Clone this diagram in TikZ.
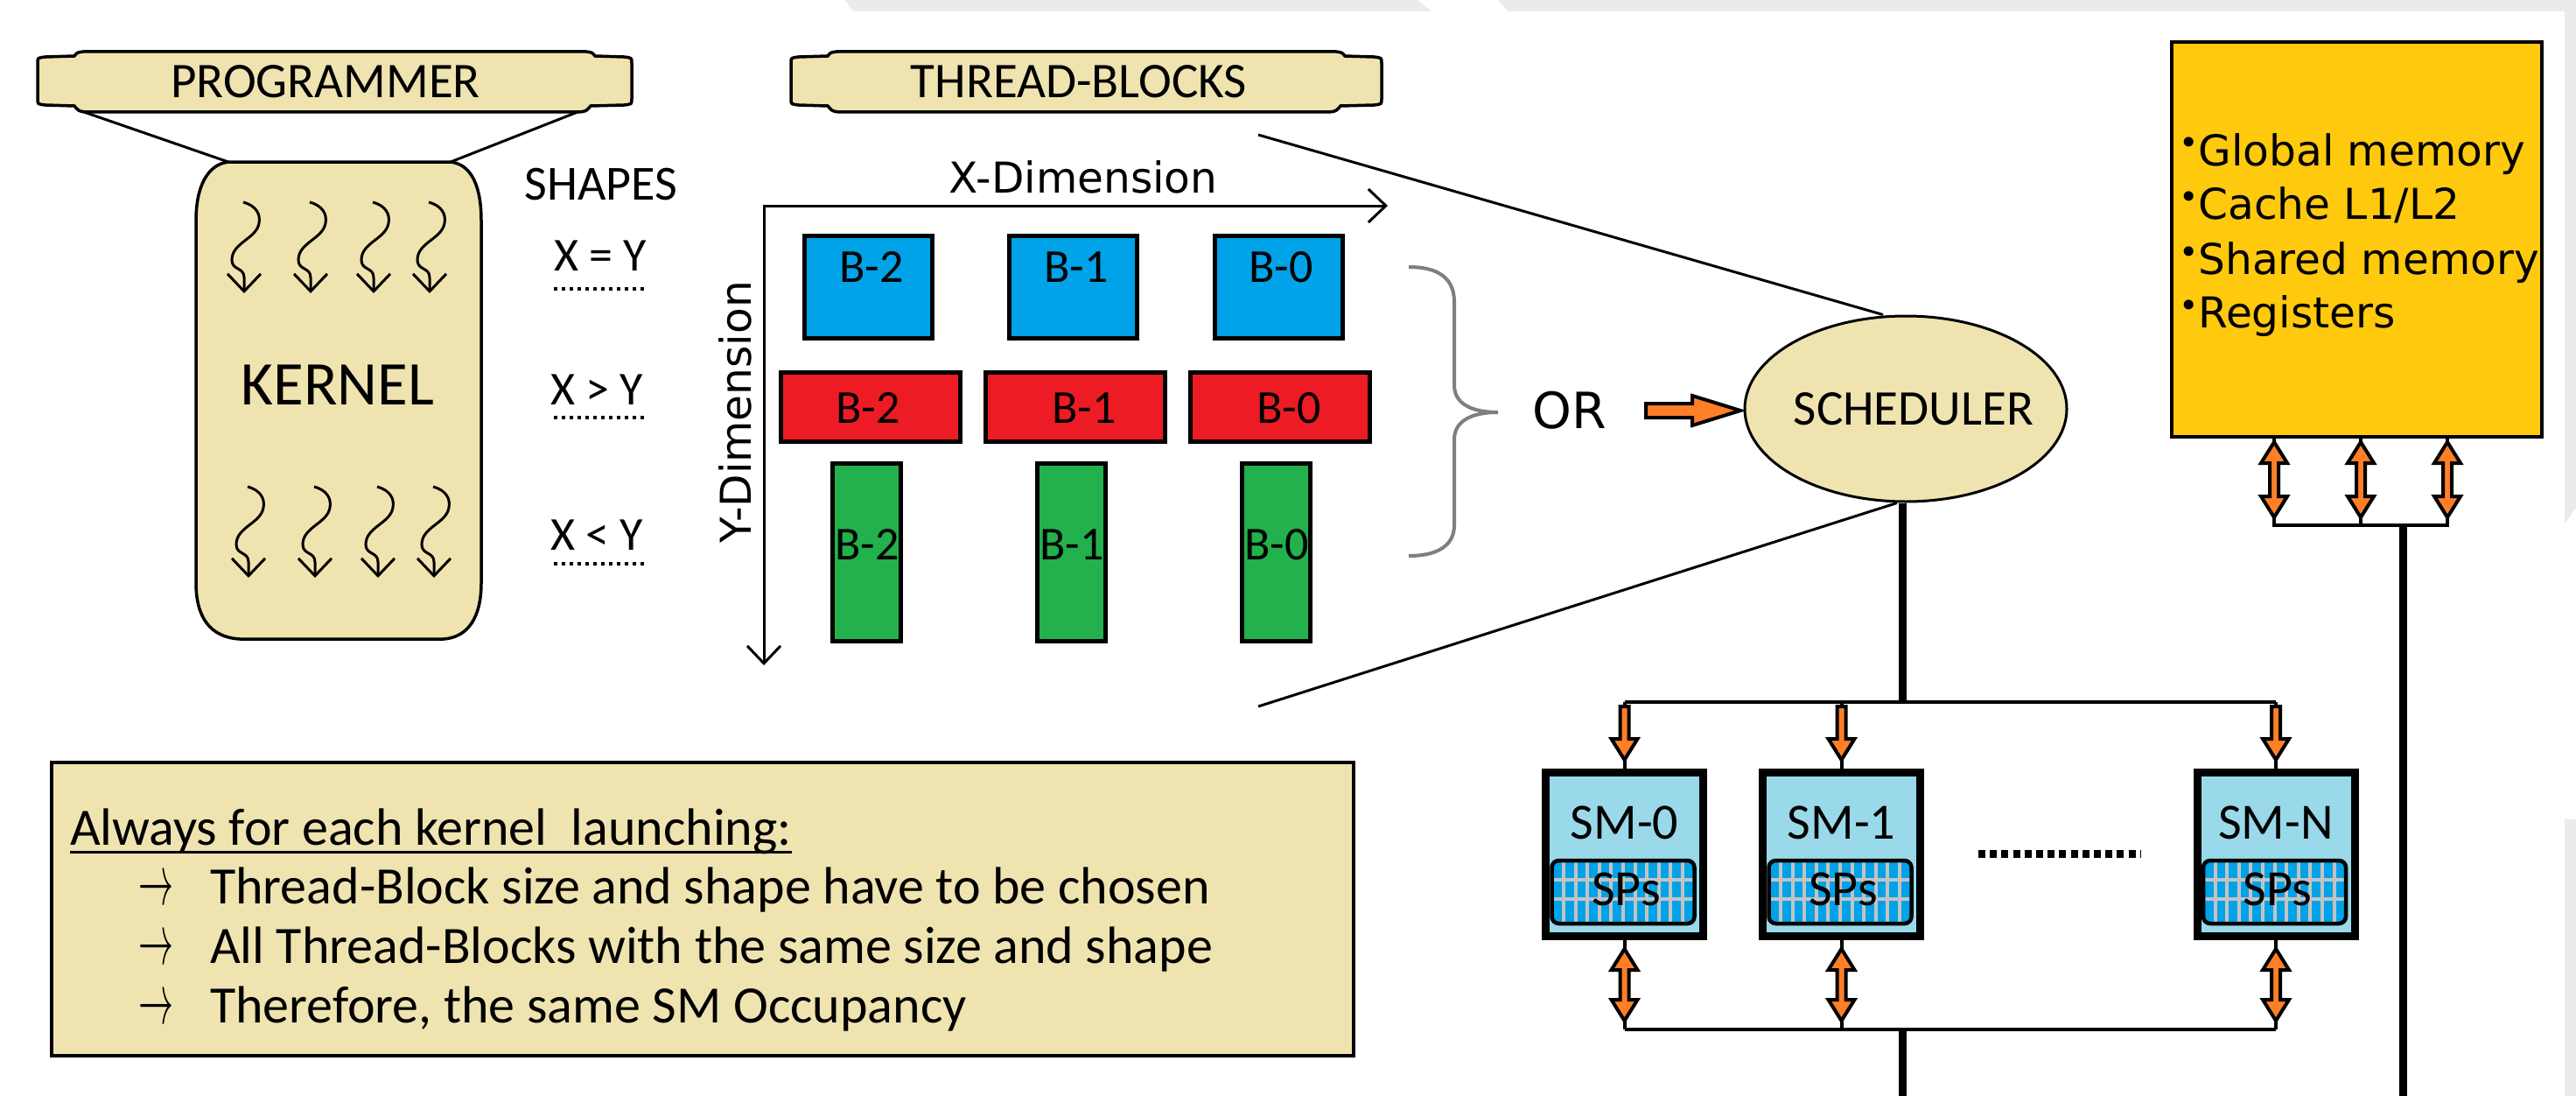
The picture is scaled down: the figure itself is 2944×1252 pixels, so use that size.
\documentclass[tikz,border=0pt]{standalone}
\usepackage{fontspec}
\setmainfont{Carlito}
\newfontfamily\dvs{DejaVu Sans}
\usetikzlibrary{arrows.meta,shapes.geometric,calc}
\definecolor{pbeige}{RGB}{239,228,176}
\definecolor{pblue}{RGB}{0,162,232}
\definecolor{pred}{RGB}{237,28,36}
\definecolor{pgreen}{RGB}{34,177,76}
\definecolor{porange}{RGB}{255,127,39}
\definecolor{plblue}{RGB}{153,217,234}
\definecolor{pyellow}{RGB}{255,201,14}
\definecolor{pgrid}{RGB}{195,195,195}
\definecolor{pbrace}{RGB}{127,127,127}
\definecolor{bggray}{RGB}{235,235,235}

\newcommand{\bannerbox}[2]{%
  \filldraw[fill=pbeige, draw=black, line width=1.75pt]
  (#1,72) .. controls (#1,66) .. (#1+9,65) -- (#1+42,64)
  .. controls (#1+45,60) .. (#1+52,59) -- (#2-52,59)
  .. controls (#2-45,60) .. (#2-42,64) -- (#2-9,65)
  .. controls (#2,66) .. (#2,72) -- (#2,113)
  .. controls (#2,119) .. (#2-9,120) -- (#2-47,121)
  .. controls (#2-52,127) .. (#2-60,128) -- (#1+55,128)
  .. controls (#1+47,127) .. (#1+42,121) -- (#1+9,120)
  .. controls (#1,119) .. (#1,113) -- cycle;}
\newcommand{\membullet}{\raisebox{6pt}{\fontsize{19}{19}\selectfont •}}
\newcommand{\notearrow}{\resizebox{20pt}{15pt}{$\rightarrow$}}

\tikzset{
  blockarrow/.style={fill=porange, draw=black, line width=2pt, line join=miter},
  pics/downarr/.style={code={\filldraw[blockarrow] (-5,0) -- (-5,#1-24) -- (-15,#1-24) -- (0,#1) -- (15,#1-24) -- (5,#1-24) -- (5,0) -- cycle;}},
  pics/dblarr/.style={code={\filldraw[blockarrow] (0,0) -- (15,24) -- (5,24) -- (5,#1-24) -- (15,#1-24) -- (0,#1) -- (-15,#1-24) -- (-5,#1-24) -- (-5,24) -- (-15,24) -- cycle;}},
  pics/rightarr/.style={code={\filldraw[blockarrow] (0,-8) -- (#1-55,-8) -- (#1-55,-17) -- (#1,0) -- (#1-55,17) -- (#1-55,8) -- (0,8) -- cycle;}},
  pics/squig/.style={code={\draw[line width=1.5pt, -{Straight Barb[length=10pt,width=19pt]}] (-1,-104) .. controls (14,-100) and (19,-90) .. (17,-80) .. controls (14,-62) and (-14,-58) .. (-14,-38) .. controls (-14,-26) and (0,-30) .. (0,-18) -- (0,0);}},
  pics/spsgrid/.style={code={
    \begin{scope}
      \clip[rounded corners=4pt] (-83,7) rectangle (80,79);
      \fill[pblue] (-83,7) rectangle (80,79);
      \foreach \i in {0,...,10} {\draw[pgrid, line width=2pt] ({-69.5+13.6*\i},7) -- ({-69.5+13.6*\i},79);}
      \draw[pgrid, line width=2pt] (-83,29) -- (80,29) (-83,51) -- (80,51);
    \end{scope}
    \draw[line width=2.25pt, rounded corners=4pt] (-83,7) rectangle (80,79);}},
}
\begin{document}
\begin{tikzpicture}[x=0.5pt,y=-0.5pt,
  txt/.style={inner sep=0pt, outer sep=0pt},
  thinline/.style={line width=1.5pt},
  blk/.style={draw=black, line width=2.5pt, inner sep=0pt},
  busline/.style={line width=2pt},
  thickline/.style={line width=4.5pt},
  dotline/.style={line width=1.75pt, dash pattern=on 1.75pt off 2.75pt},
  smbox/.style={draw=black, line width=4.5pt, fill=plblue, minimum width=90pt, minimum height=93.5pt, inner sep=0pt},
  fA/.style={font=\fontsize{28.5}{30}\selectfont},
  fB/.style={font=\fontsize{27}{28}\selectfont},
  fN/.style={font=\fontsize{30}{32}\selectfont},
  fD/.style={font=\dvs\fontsize{24.3}{26}\selectfont},
]
\useasboundingbox (0,0) rectangle (2944,1252);
\fill[white] (0,0) rectangle (2944,1252);
% faint background shapes
\fill[bggray] (966,0) -- (1620,0) -- (1636,13) -- (975,13) -- cycle;
\fill[bggray] (1712,0) -- (2944,0) -- (2944,580) -- (2931,598) -- (2931,13) -- (1724,13) -- cycle;
\fill[bggray] (2931,936) -- (2944,936) -- (2944,1252) -- (2931,1252) -- cycle;

% PROGRAMMER and kernel
\bannerbox{43}{722}
\node[txt, fA] (prog) at (372,93.5) {PROGRAMMER};
\filldraw[fill=pbeige, draw=black, line width=1.75pt] (224,252) .. controls (224,215) and (236,188) .. (261,185) -- (515,185) .. controls (540,188) and (550,215) .. (550,252) -- (550,666) .. controls (550,705) and (535,728) .. (507,730) -- (274,730) .. controls (240,728) and (224,705) .. (224,666) -- cycle;
\coordinate (kTL) at (261,185);
\coordinate (kTR) at (515,185);
\coordinate (progBL) at (96,128);
\coordinate (progBR) at (660,128);
\draw[thinline] (progBL) -- (kTL);
\draw[thinline] (progBR) -- (kTR);
\node[txt, font=\fontsize{35.5}{36}\selectfont] (kernel) at (386,440) {KERNEL};
\foreach \tx in {279,355,427,491} {\pic at (\tx,335) {squig};}
\foreach \tx in {284,360,432,496} {\pic at (\tx,660) {squig};}

% shapes
\node[txt, font=\fontsize{28}{30}\selectfont] (shapes) at (687,211) {SHAPES};
\node[txt, fB] (s1) at (686,292) {X = Y};
\node[txt, fB] (s2) at (682,445) {X > Y};
\node[txt, fB] (s3) at (682,611) {X < Y};
\draw[dotline] (633,330) -- (737,330);
\draw[dotline] (633,477) -- (737,477);
\draw[dotline] (633,644) -- (737,644);

% thread blocks
\bannerbox{904}{1579}
\node[txt, fA] (tblk) at (1233,93.5) {THREAD-BLOCKS};
\coordinate (orig) at (873,235);
\coordinate (xtip) at (1586,235);
\coordinate (ytip) at (873,760);
\draw[thinline, {Straight Barb[length=10pt,width=19pt]}-{Straight Barb[length=10pt,width=19pt]}] (xtip) -- (orig) -- (ytip);
\node[txt, fD, anchor=base] (xdim) at (1238,220) {X-Dimension};
\node[txt, fD, anchor=base, rotate=90] (ydim) at (858,471) {Y-Dimension};

\node[blk, fill=pblue, minimum width=73pt, minimum height=58.5pt] (bl2) at (992.5,328) {};
\node[blk, fill=pblue, minimum width=73pt, minimum height=58.5pt] (bl1) at (1226.5,328) {};
\node[blk, fill=pblue, minimum width=73pt, minimum height=58.5pt] (bl0) at (1461,328) {};
\node[txt, fB] at (996,305) {B-2};
\node[txt, fB] at (1230,305) {B-1};
\node[txt, fB] at (1464,305) {B-0};
\node[blk, fill=pred, minimum width=102.5pt, minimum height=39.5pt] (rd2) at (995,465) {};
\node[blk, fill=pred, minimum width=102.5pt, minimum height=39.5pt] (rd1) at (1228.5,465) {};
\node[blk, fill=pred, minimum width=102.5pt, minimum height=39.5pt] (rd0) at (1462.5,465) {};
\node[txt, fB] at (992,466) {B-2};
\node[txt, fB] at (1239,466) {B-1};
\node[txt, fB] at (1473,466) {B-0};
\node[blk, fill=pgreen, minimum width=39pt, minimum height=101.5pt] (gr2) at (990.5,631) {};
\node[blk, fill=pgreen, minimum width=39pt, minimum height=101.5pt] (gr1) at (1224.5,631) {};
\node[blk, fill=pgreen, minimum width=39pt, minimum height=101.5pt] (gr0) at (1458.5,631) {};
\node[txt, fB] at (991,622) {B-2};
\node[txt, fB] at (1225,622) {B-1};
\node[txt, fB] at (1459,622) {B-0};

% brace
\draw[pbrace, line width=2pt] (1610,305) .. controls (1640,305) and (1662,315) .. (1662,345) -- (1662,440) .. controls (1662,460) and (1680,471) .. (1712,471) .. controls (1680,471) and (1662,482) .. (1662,502) -- (1662,600) .. controls (1662,625) and (1640,635) .. (1610,635);
\node[txt, font=\dvs\fontsize{28.5}{30}\selectfont] (or) at (1794,469) {OR};

% scheduler
\coordinate (fanTop) at (1438,154);
\coordinate (fanBot) at (1438,807);
\node[ellipse, draw=black, line width=1.5pt, fill=pbeige, minimum width=184pt, minimum height=106pt, inner sep=0pt] (sched) at (2178,467) {};
\draw[thinline] (fanTop) -- ([xshift=-13pt]sched.north);
\draw[thinline] (fanBot) -- ([xshift=-5pt]sched.south);
\node[txt, fA] (schedl) at (2187,467) {SCHEDULER};
\pic at (1881,469) {rightarr=108};

% memory
\node[draw=black, line width=2pt, fill=pyellow, minimum width=211.5pt, minimum height=225.5pt, inner sep=0pt] (mem) at (2693.5,273.5) {};
\node[txt, fD, anchor=base west] (mem1) at (2490,189) {\membullet Global memory};
\node[txt, fD, anchor=base west] (mem2) at (2490,250) {\membullet Cache L1/L2};
\node[txt, fD, anchor=base west] (mem3) at (2490,313) {\membullet Shared memory};
\node[txt, fD, anchor=base west] (mem4) at (2490,374) {\membullet Registers};
\coordinate (mA) at (2599,600);
\coordinate (mB) at (2698,600);
\coordinate (mC) at (2797,600);
\coordinate (memS) at (2746,600);
\coordinate (memEnd) at (2746,1252);
\draw[busline] (mA |- mem.south) -- (mA) -- (mC) -- (mC |- mem.south);
\draw[busline] (mB |- mem.south) -- (mB);
\draw[thickline] (memS) -- (memEnd);
\pic at ($(mA |- mem.south)+(0,4)$) {dblarr=86};
\pic at ($(mB |- mem.south)+(0,4)$) {dblarr=86};
\pic at ($(mC |- mem.south)+(0,4)$) {dblarr=86};

% SMs
\node[smbox] (sm0) at (1856.5,976) {};
\node[smbox] (sm1) at (2104.5,976) {};
\node[smbox] (smN) at (2601,976) {};
\foreach \s in {sm0,sm1,smN} {\pic at (\s.center) {spsgrid};}
\node[txt, font=\fontsize{29}{30}\selectfont] at ($(sm0.center)+(0,-36)$) {SM-0};
\node[txt, font=\fontsize{29}{30}\selectfont] at ($(sm1.center)+(0,-36)$) {SM-1};
\node[txt, font=\fontsize{29}{30}\selectfont] at ($(smN.center)+(0,-36)$) {SM-N};
\node[txt, font=\fontsize{29}{30}\selectfont] at ($(sm0.center)+(2,40)$) {SPs};
\node[txt, font=\fontsize{29}{30}\selectfont] at ($(sm1.center)+(2,40)$) {SPs};
\node[txt, font=\fontsize{29}{30}\selectfont] at ($(smN.center)+(2,40)$) {SPs};
\coordinate (dotsL) at (2261,975);
\coordinate (dotsR) at (2446,975);
\draw[line width=4.5pt, dash pattern=on 4pt off 2.6pt] (dotsL) -- (dotsR);

\coordinate (busT) at (0,802);
\coordinate (busB) at (0,1176);
\coordinate (tb0) at (sm0.north |- busT);
\coordinate (tb1) at (sm1.north |- busT);
\coordinate (tbN) at (smN.north |- busT);
\coordinate (bb0) at (sm0.south |- busB);
\coordinate (bb1) at (sm1.south |- busB);
\coordinate (bbN) at (smN.south |- busB);
\coordinate (bottomEnd) at (2174,1252);
\draw[thickline] ([xshift=-2pt]sched.south) -- ([xshift=-2pt]sched.south |- busT);
\draw[thickline] (bottomEnd |- busB) -- (bottomEnd);
\draw[busline] (tb0) -- (tbN);
\draw[busline] (bb0) -- (bbN);
\draw[busline] (tb0) -- (sm0.north) (tb1) -- (sm1.north) (tbN) -- (smN.north);
\draw[busline] (bb0) -- (sm0.south) (bb1) -- (sm1.south) (bbN) -- (smN.south);
\pic at ($(tb0)+(0,5)$) {downarr=61};
\pic at ($(tb1)+(0,5)$) {downarr=61};
\pic at ($(tbN)+(0,5)$) {downarr=61};
\pic at ($(sm0.south)+(0,10)$) {dblarr=82};
\pic at ($(sm1.south)+(0,10)$) {dblarr=82};
\pic at ($(smN.south)+(0,10)$) {dblarr=82};

% note box
\node[draw=black, line width=2pt, fill=pbeige, minimum width=744pt, minimum height=167.5pt, inner sep=0pt] (note) at (803,1038.5) {};
\node[txt, fN, anchor=base west] (always) at (80,965) {Always for each kernel\ \ launching:};
\draw[line width=1.5pt] ([yshift=-4pt]always.base west) -- ([yshift=-4pt]always.base east);
\node[txt] (ar1) at (178,1018) {\notearrow};
\node[txt] (ar2) at (178,1086) {\notearrow};
\node[txt] (ar3) at (178,1154) {\notearrow};
\node[txt, fN, anchor=base west] (ln1) at (240,1032) {Thread-Block size and shape have to be chosen};
\node[txt, fN, anchor=base west] (ln2) at (240,1100) {All Thread-Blocks with the same size and shape};
\node[txt, fN, anchor=base west] (ln3) at (240,1168) {Therefore, the same SM Occupancy};
\end{tikzpicture}
\end{document}
